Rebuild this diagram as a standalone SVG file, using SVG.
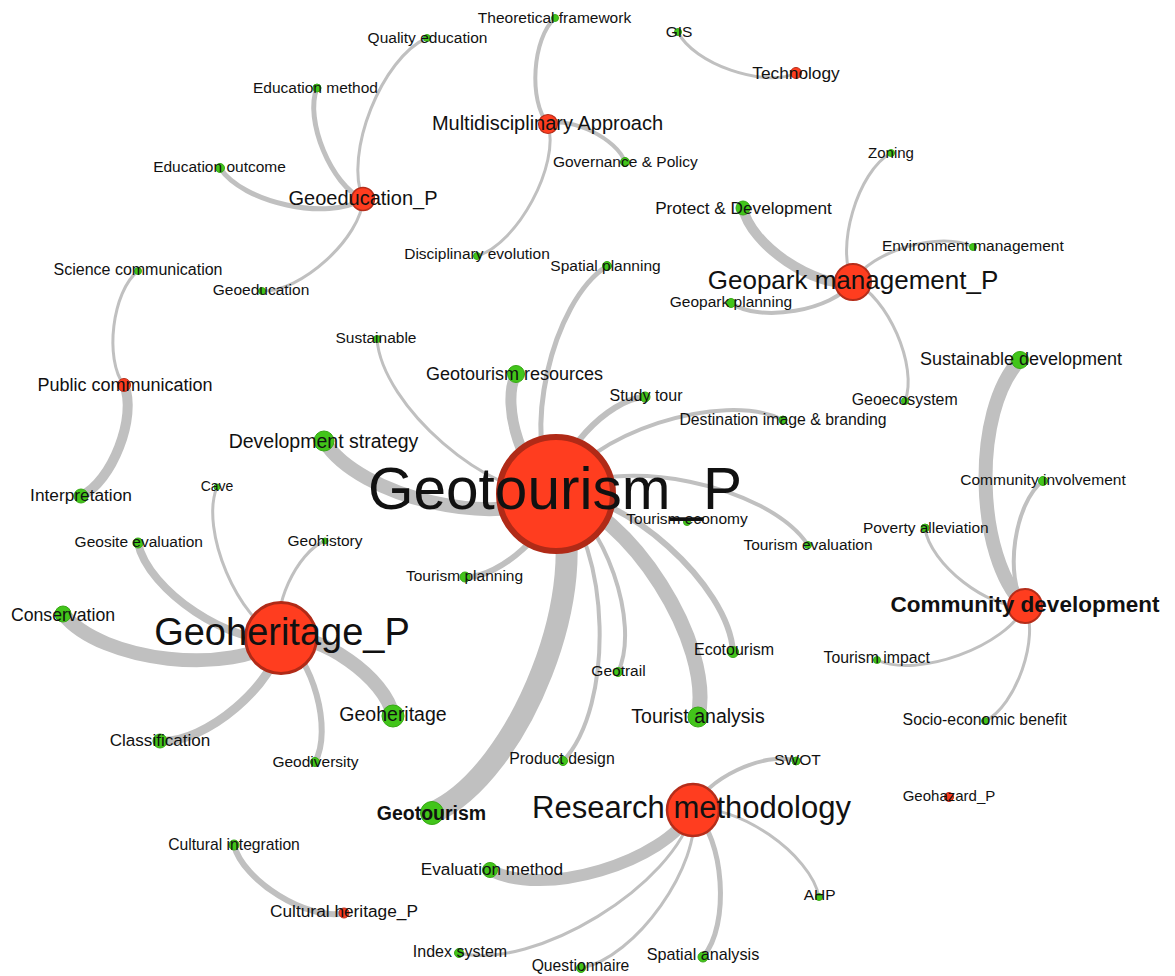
<svg xmlns="http://www.w3.org/2000/svg" width="1175" height="976" viewBox="0 0 1175 976" font-size="15.5">
<style>
.e{fill:none;stroke:#c0c0c0;stroke-linecap:butt}
.g{fill:#42c51a;stroke:#38a816;stroke-width:1}
.r{fill:#ff3d1f}
text{font-family:"Liberation Sans",Arial,sans-serif;fill:#111;text-anchor:middle}
.b{font-weight:bold}
</style>
<rect width="1175" height="976" fill="#fff"/>
<g id="edges">
<path class="e" stroke-width="14" d="M556 494C499 529.8 359.8 498 324 441"/>
<path class="e" stroke-width="3" d="M556 494C489.2 498.8 381.8 405.8 377 339"/>
<path class="e" stroke-width="11" d="M556 494C524 478 500 406 516 374"/>
<path class="e" stroke-width="5" d="M556 494C520.6 438.2 551.2 301.4 607 266"/>
<path class="e" stroke-width="6" d="M556 494C554.4 456.8 607.8 398.6 645 397"/>
<path class="e" stroke-width="4" d="M556 494C586.6 433.8 722.8 389.4 783 420"/>
<path class="e" stroke-width="4" d="M556 494C616.6 453.8 767.8 484.4 808 545"/>
<path class="e" stroke-width="6" d="M556 494C554.4 528.8 499.8 578.6 465 577"/>
<path class="e" stroke-width="22" d="M556 494C595 582.6 520.6 774 432 813"/>
<path class="e" stroke-width="4" d="M556 494C610.8 546 615 706.2 563 761"/>
<path class="e" stroke-width="4" d="M556 494C604 517.2 641.2 624 618 672"/>
<path class="e" stroke-width="15" d="M556 494C629 510.2 714.2 644 698 717"/>
<path class="e" stroke-width="6" d="M556 494C623 490.2 729.2 585 733 652"/>
<path class="e" stroke-width="14" d="M281 638C232.6 676.8 101.8 662.4 63 614"/>
<path class="e" stroke-width="8" d="M281 638C233.4 647.6 147.6 590.6 138 543"/>
<path class="e" stroke-width="3" d="M281 638C238 620.6 199.6 530 217 487"/>
<path class="e" stroke-width="3" d="M281 638C270.4 609.8 296.8 551.6 325 541"/>
<path class="e" stroke-width="14" d="M281 638C319 631.2 386.2 678 393 716"/>
<path class="e" stroke-width="6" d="M281 638C312.6 656 333 730.4 315 762"/>
<path class="e" stroke-width="9" d="M281 638C277.4 682.8 204.8 744.6 160 741"/>
<path class="e" stroke-width="10" d="M124 385C137.6 415.8 111.8 482.4 81 496"/>
<path class="e" stroke-width="3" d="M124 385C104 359.4 112.4 291 138 271"/>
<path class="e" stroke-width="3" d="M363 199C343.6 154 382 57.4 427 38"/>
<path class="e" stroke-width="5" d="M363 199C331.6 186 304 119.4 317 88"/>
<path class="e" stroke-width="5" d="M363 199C328.2 221.4 242.4 202.8 220 168"/>
<path class="e" stroke-width="3" d="M363 199C361.2 237.6 300.6 292.8 262 291"/>
<path class="e" stroke-width="4" d="M548 124C528.2 101.4 532.4 37.8 555 18"/>
<path class="e" stroke-width="4" d="M548 124C571 116.2 617.2 139 625 162"/>
<path class="e" stroke-width="3" d="M548 124C560.2 164.6 517.6 243.8 477 256"/>
<path class="e" stroke-width="3" d="M796 73C764.2 88.4 693.4 63.8 678 32"/>
<path class="e" stroke-width="10" d="M853 282C816.2 289.2 750.2 244.8 743 208"/>
<path class="e" stroke-width="3" d="M853 282C834.8 248.6 857.6 171.2 891 153"/>
<path class="e" stroke-width="3" d="M853 282C870 251 942 230 973 247"/>
<path class="e" stroke-width="4" d="M853 282C832.8 310.6 759.6 323.2 731 303"/>
<path class="e" stroke-width="3" d="M853 282C887.2 295.4 918.4 366.8 905 401"/>
<path class="e" stroke-width="14" d="M1025 606C974.8 557.8 971.8 410.2 1020 360"/>
<path class="e" stroke-width="4" d="M1025 606C1003.6 577.4 1014.4 502.4 1043 481"/>
<path class="e" stroke-width="3" d="M1025 606C989.4 610.4 929.4 563.6 925 528"/>
<path class="e" stroke-width="3" d="M1025 606C1006.2 646.4 917.4 678.8 877 660"/>
<path class="e" stroke-width="3" d="M1025 606C1040 637 1016 706 985 721"/>
<path class="e" stroke-width="4" d="M693 810C703.8 779.6 765.6 750.2 796 761"/>
<path class="e" stroke-width="3" d="M693 810C735.6 802.2 811.2 854.4 819 897"/>
<path class="e" stroke-width="5" d="M693 810C724.4 837.4 730.4 925.6 703 957"/>
<path class="e" stroke-width="3" d="M693 810C702.2 864 635 958.8 581 968"/>
<path class="e" stroke-width="3" d="M693 810C674.8 885.4 534.4 971.2 459 953"/>
<path class="e" stroke-width="12" d="M693 810C664.4 862.6 542.6 898.6 490 870"/>
<path class="e" stroke-width="6" d="M344 913C308.4 921.4 242.4 880.6 234 845"/>
</g>
<g id="n-theoretical-framework"><circle class="g" cx="555" cy="18" r="3.5"/><text x="554.5" y="22.7">Theoretical framework</text></g>
<g id="n-quality-education"><circle class="g" cx="427" cy="38" r="3.5"/><text x="427.5" y="42.7">Quality education</text></g>
<g id="n-gis"><circle class="g" cx="678" cy="32" r="3.5"/><text x="679" y="36.7">GIS</text></g>
<g id="n-education-method"><circle class="g" cx="317" cy="88" r="4"/><text x="315.5" y="93">Education method</text></g>
<g id="n-governance-policy"><circle class="g" cx="625" cy="162" r="4.5"/><text x="625.3" y="166.7">Governance &amp; Policy</text></g>
<g id="n-education-outcome"><circle class="g" cx="220" cy="168" r="4.5"/><text x="219.5" y="172.3">Education outcome</text></g>
<g id="n-zoning"><circle class="g" cx="891" cy="153" r="3.5"/><text x="891" y="158.3" font-size="15">Zoning</text></g>
<g id="n-environment-management"><circle class="g" cx="973" cy="247" r="3.5"/><text x="972.8" y="250.7">Environment management</text></g>
<g id="n-disciplinary-evolution"><circle class="g" cx="477" cy="256" r="3.5"/><text x="477" y="259.3">Disciplinary evolution</text></g>
<g id="n-spatial-planning"><circle class="g" cx="607" cy="266" r="4.5"/><text x="605.5" y="270.7">Spatial planning</text></g>
<g id="n-science-communication"><circle class="g" cx="138" cy="271" r="3.5"/><text x="138" y="275.3" font-size="16">Science communication</text></g>
<g id="n-geoeducation"><circle class="g" cx="262" cy="291" r="3.5"/><text x="261" y="295">Geoeducation</text></g>
<g id="n-geopark-planning"><circle class="g" cx="731" cy="303" r="4.5"/><text x="731" y="307.3">Geopark planning</text></g>
<g id="n-protect-development"><circle class="g" cx="743" cy="208" r="7"/><text x="743.5" y="213.5" font-size="17.2">Protect &amp; Development</text></g>
<g id="n-sustainable"><circle class="g" cx="377" cy="339" r="3.5"/><text x="376" y="342.7">Sustainable</text></g>
<g id="n-geotourism-resources"><circle class="g" cx="516" cy="374" r="8.5"/><text x="514.5" y="379.5" font-size="18">Geotourism resources</text></g>
<g id="n-sustainable-development"><circle class="g" cx="1020" cy="360" r="8.5"/><text x="1021" y="365" font-size="18">Sustainable development</text></g>
<g id="n-study-tour"><circle class="g" cx="645" cy="397" r="5"/><text x="646" y="400.7" font-size="16">Study tour</text></g>
<g id="n-geoecosystem"><circle class="g" cx="905" cy="401" r="3.5"/><text x="904.7" y="405" font-size="15.9">Geoecosystem</text></g>
<g id="n-destination-image"><circle class="g" cx="783" cy="420" r="4"/><text x="783" y="425" font-size="15.8">Destination image &amp; branding</text></g>
<g id="n-development-strategy"><circle class="g" cx="324" cy="441" r="10"/><text x="323.5" y="448" font-size="19.5">Development strategy</text></g>
<g id="n-community-involvement"><circle class="g" cx="1043" cy="481" r="4.5"/><text x="1043" y="485">Community involvement</text></g>
<g id="n-interpretation"><circle class="g" cx="81" cy="496" r="7"/><text x="81" y="500.5" font-size="17.3">Interpretation</text></g>
<g id="n-cave"><circle class="g" cx="217" cy="487" r="3"/><text x="217" y="491" font-size="14">Cave</text></g>
<g id="n-tourism-economy"><circle class="g" cx="687" cy="522" r="3.5"/><text x="687" y="524">Tourism economy</text></g>
<g id="n-poverty-alleviation"><circle class="g" cx="925" cy="528" r="4"/><text x="925.8" y="532.7">Poverty alleviation</text></g>
<g id="n-geosite-evaluation"><circle class="g" cx="138" cy="543" r="5"/><text x="138.8" y="547">Geosite evaluation</text></g>
<g id="n-geohistory"><circle class="g" cx="325" cy="541" r="3"/><text x="325" y="545.7">Geohistory</text></g>
<g id="n-tourism-evaluation"><circle class="g" cx="808" cy="545" r="3.5"/><text x="808" y="550">Tourism evaluation</text></g>
<g id="n-tourism-planning"><circle class="g" cx="465" cy="577" r="5"/><text x="464.5" y="580.7">Tourism planning</text></g>
<g id="n-conservation"><circle class="g" cx="63" cy="614" r="8"/><text x="63" y="620.5" font-size="17.7">Conservation</text></g>
<g id="n-ecotourism"><circle class="g" cx="733" cy="652" r="5.5"/><text x="734" y="655" font-size="16">Ecotourism</text></g>
<g id="n-tourism-impact"><circle class="g" cx="877" cy="660" r="3.5"/><text x="876.7" y="663.3" font-size="15.8">Tourism impact</text></g>
<g id="n-geotrail"><circle class="g" cx="618" cy="672" r="4.5"/><text x="618.5" y="676">Geotrail</text></g>
<g id="n-geoheritage"><circle class="g" cx="393" cy="716" r="11"/><text x="393" y="720.5" font-size="19.5">Geoheritage</text></g>
<g id="n-tourist-analysis"><circle class="g" cx="698" cy="717" r="10"/><text x="698" y="722.5" font-size="19.5">Tourist analysis</text></g>
<g id="n-socio-economic-benefit"><circle class="g" cx="985" cy="721" r="3.5"/><text x="984.7" y="725" font-size="15.8">Socio-economic benefit</text></g>
<g id="n-classification"><circle class="g" cx="160" cy="741" r="7"/><text x="160" y="745.5" font-size="17.1">Classification</text></g>
<g id="n-geodiversity"><circle class="g" cx="315" cy="762" r="4.5"/><text x="315.5" y="766.7">Geodiversity</text></g>
<g id="n-product-design"><circle class="g" cx="563" cy="761" r="4.5"/><text x="562" y="764.3" font-size="15.8">Product design</text></g>
<g id="n-swot"><circle class="g" cx="796" cy="761" r="4"/><text x="797.5" y="765">SWOT</text></g>
<g id="n-geotourism"><circle class="g" cx="432" cy="813" r="11.5"/><text class="b" x="431.5" y="819.5" font-size="19.5">Geotourism</text></g>
<g id="n-cultural-integration"><circle class="g" cx="234" cy="845" r="5"/><text x="234" y="850" font-size="15.7">Cultural integration</text></g>
<g id="n-evaluation-method"><circle class="g" cx="490" cy="870" r="7.5"/><text x="492" y="875" font-size="17.2">Evaluation method</text></g>
<g id="n-ahp"><circle class="g" cx="819" cy="897" r="3.5"/><text x="819.6" y="900">AHP</text></g>
<g id="n-index-system"><circle class="g" cx="459" cy="953" r="4.5"/><text x="460" y="957.3" font-size="16">Index system</text></g>
<g id="n-spatial-analysis"><circle class="g" cx="703" cy="957" r="5"/><text x="703" y="960" font-size="16.2">Spatial analysis</text></g>
<g id="n-questionnaire"><circle class="g" cx="581" cy="968" r="4.5"/><text x="580.5" y="971" font-size="15.7">Questionnaire</text></g>
<g id="n-geohazard"><circle class="r" cx="949" cy="797" r="4.5" stroke="#b52d1a" stroke-width="1"/><text x="949" y="801" font-size="15">Geohazard_P</text></g>
<g id="n-cultural-heritage"><circle class="r" cx="344" cy="913" r="5" stroke="#b52d1a" stroke-width="1"/><text x="344" y="917" font-size="17.3">Cultural heritage_P</text></g>
<g id="n-technology"><circle class="r" cx="796" cy="73" r="5.5" stroke="#b52d1a" stroke-width="1"/><text x="796" y="78.5" font-size="17.3">Technology</text></g>
<g id="n-public-communication"><circle class="r" cx="124" cy="385" r="6.5" stroke="#b52d1a" stroke-width="1"/><text x="125" y="391" font-size="18">Public communication</text></g>
<g id="n-multidisciplinary"><circle class="r" cx="548" cy="124" r="9.5" stroke="#b52d1a" stroke-width="1.2"/><text x="547.5" y="130" font-size="20">Multidisciplinary Approach</text></g>
<g id="n-geoeducation-p"><circle class="r" cx="363" cy="199" r="11.5" stroke="#b52d1a" stroke-width="1.5"/><text x="363" y="204.5" font-size="20">Geoeducation_P</text></g>
<g id="n-community-development"><circle class="r" cx="1025" cy="606" r="17" stroke="#b52d1a" stroke-width="2"/><text class="b" x="1025" y="612" font-size="22.5">Community development</text></g>
<g id="n-geopark-management"><circle class="r" cx="853" cy="282" r="18" stroke="#b52d1a" stroke-width="2"/><text x="853" y="288.5" font-size="26">Geopark management_P</text></g>
<g id="n-research-methodology"><circle class="r" cx="693" cy="810" r="26" stroke="#b52d1a" stroke-width="2.5"/><text x="691.5" y="818" font-size="31">Research methodology</text></g>
<g id="n-geoheritage-p"><circle class="r" cx="281" cy="638" r="35.5" stroke="#b02a17" stroke-width="3"/><text x="282" y="645" font-size="38">Geoheritage_P</text></g>
<g id="n-geotourism-p"><circle class="r" cx="556" cy="494" r="57" stroke="#b02a17" stroke-width="6"/><text x="555" y="509" font-size="58.5">Geotourism_P</text></g>
</svg>
